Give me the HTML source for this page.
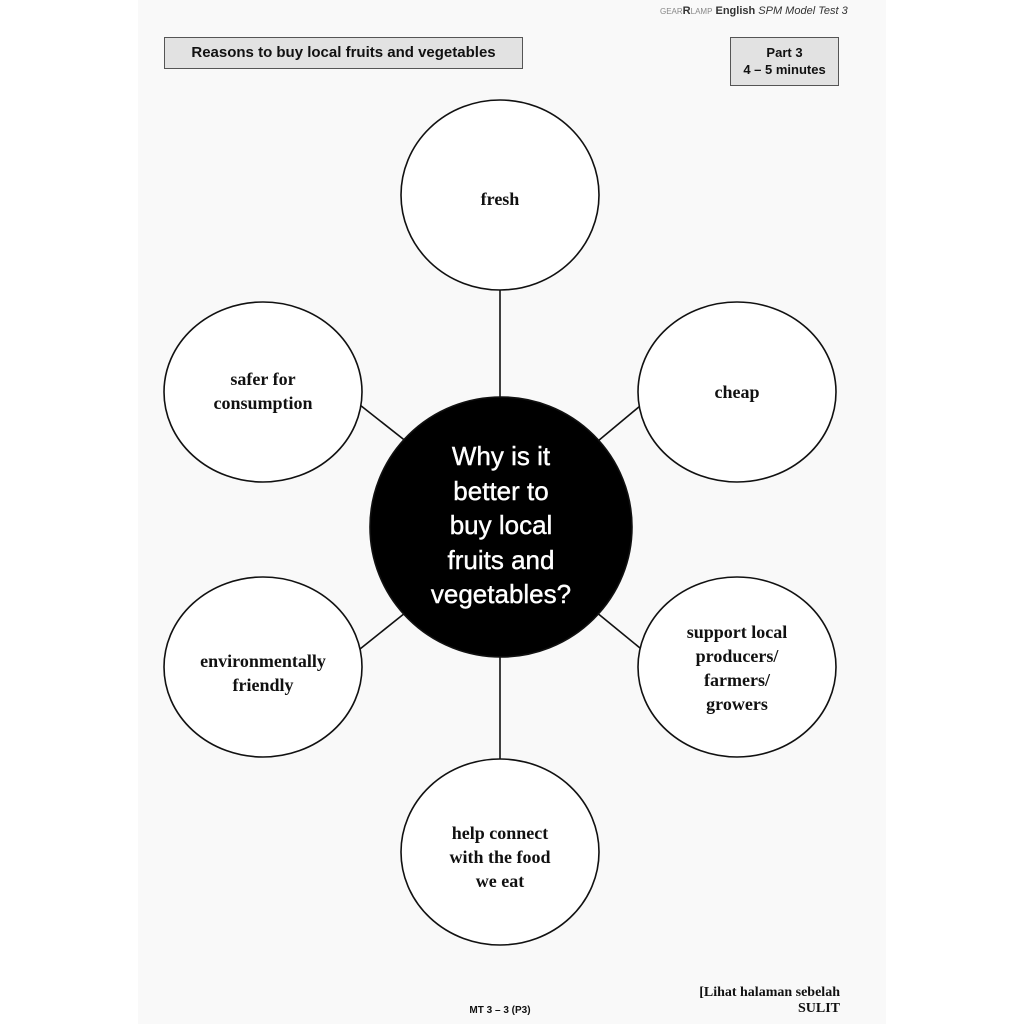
<!DOCTYPE html>
<html><head><style>
body{margin:0;width:1024px;height:1024px;background:#fff;position:relative;overflow:hidden;font-family:"Liberation Sans",sans-serif}
.page{position:absolute;left:138px;top:0;width:748px;height:1024px;background:#f9f9f9}
.box{position:absolute;background:#e2e2e2;border:1.5px solid #555;box-sizing:border-box;text-align:center;font-weight:bold;color:#111}
.t{position:absolute;font-family:"Liberation Serif",serif;font-weight:bold;font-size:18px;color:#111;text-align:center;line-height:24px}
</style></head><body>
<div class="page"></div>
<div style="position:absolute;left:660px;top:5px;font-size:11px;color:#333"><span style="color:#888;font-size:8px">GEAR</span><b>R</b><span style="color:#888;font-size:8px">LAMP</span> <b>English</b> <i>SPM Model Test 3</i></div>
<div class="box" style="left:164px;top:37px;width:359px;height:32px;font-size:15px;line-height:29px">Reasons to buy local fruits and vegetables</div>
<div class="box" style="left:730px;top:37px;width:109px;height:49px;font-size:13px;line-height:17px;padding-top:6px">Part 3<br>4 – 5 minutes</div>
<svg style="position:absolute;left:0;top:0" width="1024" height="1024">
<g stroke="#111" stroke-width="1.6" fill="#fff">
<line x1="500" y1="290" x2="500" y2="400"/>
<line x1="500" y1="655" x2="500" y2="762"/>
<line x1="360" y1="405" x2="412" y2="446"/>
<line x1="640" y1="406" x2="592" y2="446"/>
<line x1="405" y1="613" x2="360" y2="649"/>
<line x1="596" y1="612" x2="640" y2="648"/>
<ellipse cx="500" cy="195" rx="99" ry="95"/>
<ellipse cx="737" cy="392" rx="99" ry="90"/>
<ellipse cx="263" cy="392" rx="99" ry="90"/>
<ellipse cx="263" cy="667" rx="99" ry="90"/>
<ellipse cx="737" cy="667" rx="99" ry="90"/>
<ellipse cx="500" cy="852" rx="99" ry="93"/>
<ellipse cx="501" cy="527" rx="131" ry="130" fill="#000"/>
</g></svg>
<div class="t" style="left:400px;top:187px;width:200px">fresh</div>
<div class="t" style="left:638px;top:380px;width:198px">cheap</div>
<div class="t" style="left:164px;top:367px;width:198px">safer for<br>consumption</div>
<div class="t" style="left:164px;top:649px;width:198px">environmentally<br>friendly</div>
<div class="t" style="left:638px;top:620px;width:198px">support local<br>producers/<br>farmers/<br>growers</div>
<div class="t" style="left:400px;top:821px;width:200px">help connect<br>with the food<br>we eat</div>
<div style="position:absolute;left:375px;top:439px;width:252px;text-align:center;color:#fff;font-size:26px;line-height:34.5px;-webkit-text-stroke:0.4px #fff">Why is it<br>better to<br>buy local<br>fruits and<br>vegetables?</div>
<div style="position:absolute;left:640px;top:985px;width:200px;text-align:right;font-family:'Liberation Serif',serif;font-weight:bold;font-size:14px;line-height:16px;color:#111">[Lihat halaman sebelah<br>SULIT</div>
<div style="position:absolute;left:440px;top:1005px;width:120px;text-align:center;font-weight:bold;font-size:10px;color:#111">MT 3 – 3 (P3)</div>
</body></html>
